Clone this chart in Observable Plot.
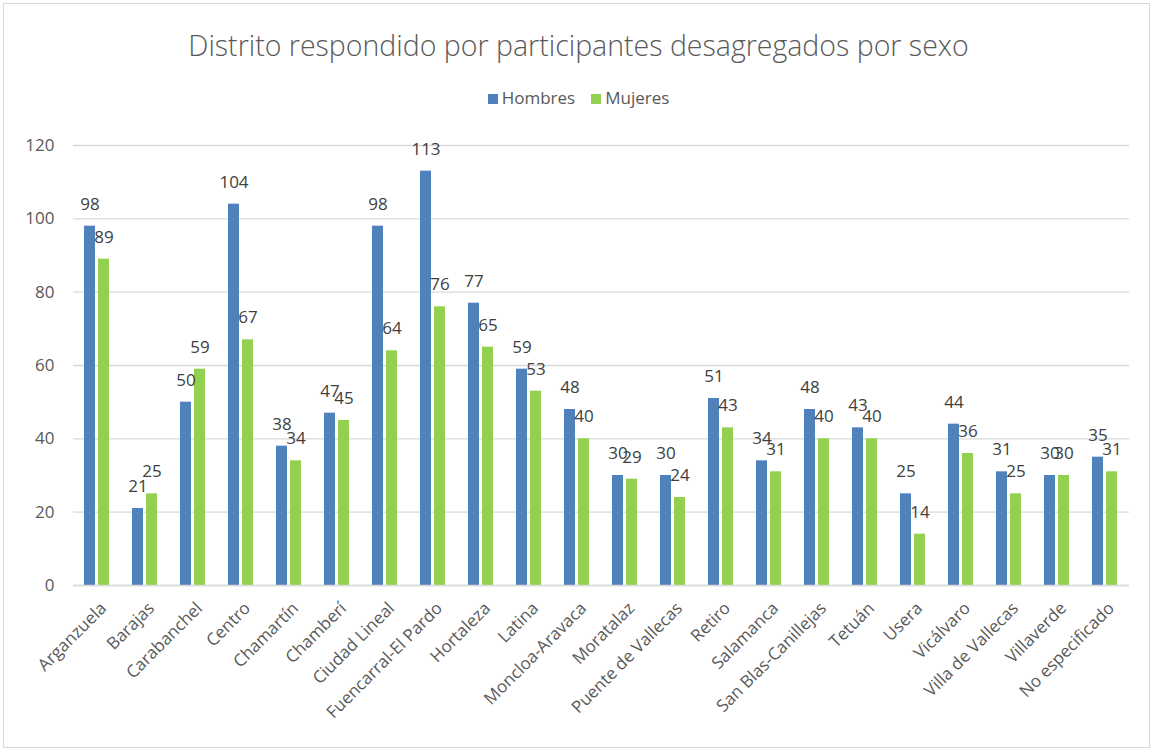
<!DOCTYPE html>
<html>
<head>
<meta charset="utf-8">
<script src="https://cdn.jsdelivr.net/npm/d3@7"></script>
<script src="https://cdn.jsdelivr.net/npm/@observablehq/plot@0.6"></script>
<style>
  html, body { margin: 0; padding: 0; background: #fff; }
  #wrap { position: relative; width: 1157px; height: 751px; overflow: hidden; font-family: "Open Sans", sans-serif; }
  #frame { position: absolute; left: 3px; top: 3px; width: 1145px; height: 743px; border: 1px solid #d9d9d9; pointer-events: none; }
  #title { padding-top: 26px; height: 38px; line-height: 38px; text-align: center; font-size: 28.5px; font-weight: 300; color: #595959; }
  #legend { padding-top: 22px; height: 24px; line-height: 24px; text-align: center; font-size: 17px; color: #595959; }
  #legend span.sw { display: inline-block; width: 10px; height: 10px; margin-right: 4px; vertical-align: -0px; }
  #legend span.item { margin: 0 8px; }
  #chart svg { display: block; }
</style>
</head>
<body>
<div id="wrap">
  <div id="frame"></div>
  <div id="title">Distrito respondido por participantes desagregados por sexo</div>
  <div id="legend"></div>
  <div id="chart"></div>
</div>
<script>
const districts = ["Arganzuela", "Barajas", "Carabanchel", "Centro", "Chamartín", "Chamberí", "Ciudad Lineal", "Fuencarral-El Pardo", "Hortaleza", "Latina", "Moncloa-Aravaca", "Moratalaz", "Puente de Vallecas", "Retiro", "Salamanca", "San Blas-Canillejas", "Tetuán", "Usera", "Vicálvaro", "Villa de Vallecas", "Villaverde", "No especificado"];
const hombres = [98, 21, 50, 104, 38, 47, 98, 113, 77, 59, 48, 30, 30, 51, 34, 48, 43, 25, 44, 31, 30, 35];
const mujeres = [89, 25, 59, 67, 34, 45, 64, 76, 65, 53, 40, 29, 24, 43, 31, 40, 40, 14, 36, 25, 30, 31];
const series = ["Hombres", "Mujeres"];
const colors = ["#4F81BD", "#92D050"];
const yTicks = [0, 20, 40, 60, 80, 100, 120];

const data = [];
districts.forEach((d, i) => {
  data.push({district: d, sexo: series[0], value: hombres[i]});
  data.push({district: d, sexo: series[1], value: mujeres[i]});
});

const legend = document.getElementById("legend");
series.forEach((s, i) => {
  const it = document.createElement("span");
  it.className = "item";
  it.innerHTML = `<span class="sw" style="background:${colors[i]}"></span>${s}`;
  legend.appendChild(it);
});

const chart = Plot.plot({
  width: 1157,
  height: 641,
  marginTop: 35,
  marginBottom: 166,
  marginLeft: 72,
  marginRight: 28,
  style: {fontFamily: "Open Sans, sans-serif", fontSize: "17px", color: "#595959", background: "transparent"},
  fx: {domain: districts, padding: 0, label: null, axis: null},
  x: {domain: series, paddingInner: 0.214, paddingOuter: 0.82, axis: null},
  y: {domain: [0, 120], label: null},
  color: {domain: series, range: colors},
  marks: [
    Plot.gridY(yTicks, {stroke: "#d9d9d9", strokeOpacity: 1, strokeWidth: 1.3}),
    Plot.axisY(yTicks, {tickSize: 0, tickPadding: 19, fontSize: 17, fill: "#595959", label: null}),
    Plot.barY(data, {fx: "district", x: "sexo", y: "value", fill: "sexo"}),
    Plot.ruleY([0], {stroke: "#d9d9d9", strokeWidth: 1.5}),
    Plot.text(data, {fx: "district", x: "sexo", y: "value", text: d => String(d.value), dy: -22, lineAnchor: "middle", fill: "#404040", fontSize: 17}),
    Plot.axisFx({anchor: "bottom", tickRotate: -45, tickSize: 0, tickPadding: 20, dx: 6, fontSize: 17, fill: "#595959", label: null})
  ]
});
document.getElementById("chart").appendChild(chart);
</script>
</body>
</html>
